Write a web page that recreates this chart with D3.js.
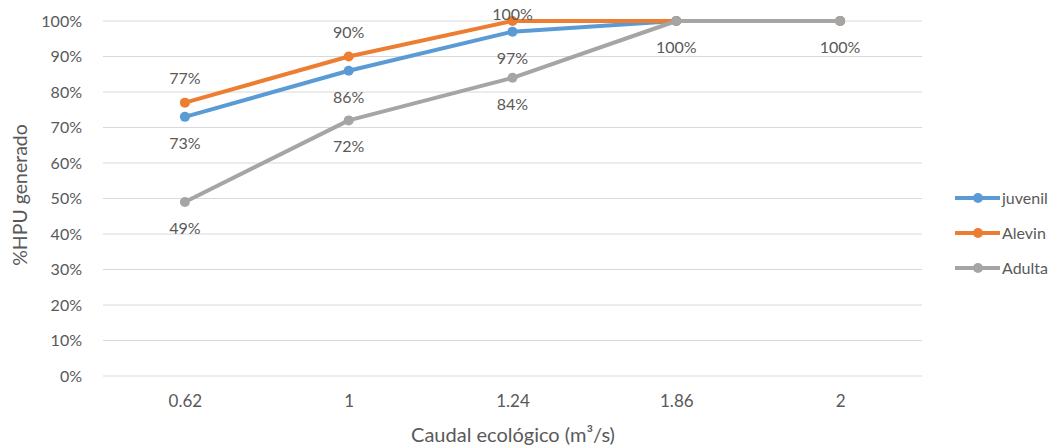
<!DOCTYPE html>
<html>
<head>
<meta charset="utf-8">
<title>%HPU generado</title>
<style>
  body { margin: 0; background: #fff; }
  svg { font-family: Lato, "Open Sans", sans-serif; }
</style>
<script src="https://d3js.org/d3.v7.min.js"></script>
</head>
<body>
<svg id="chart" width="1059" height="448"></svg>
<script>
// data
var caudales = ["0.62", "1", "1.24", "1.86", "2"];
var juvenil = [73, 86, 97, 100, 100];
var alevin  = [77, 90, 100, 100, 100];
var adulta  = [49, 72, 84, 100, 100];
var yTicks = [0, 10, 20, 30, 40, 50, 60, 70, 80, 90, 100];

var series = [
  { name: "juvenil", values: juvenil, color: "#5b9bd5", label: "below", show: [1, 1, 1, 0, 0] },
  { name: "Alevin",  values: alevin,  color: "#ed7d31", label: "above", show: [1, 1, 1, 0, 0] },
  { name: "Adulta",  values: adulta,  color: "#a5a5a5", label: "below", show: [1, 1, 1, 1, 1] }
];

var svg = d3.select("#chart"),
    margin = { left: 103, right: 137, top: 21, bottom: 72 },
    W = +svg.attr("width"), H = +svg.attr("height");

var x = d3.scalePoint()
    .domain(caudales)
    .range([margin.left, W - margin.right])
    .padding(0.5);

var y = d3.scaleLinear()
    .domain([0, 100])
    .range([H - margin.bottom, margin.top]);

var textCol = "#595959";

// gridlines
svg.append("g")
  .selectAll("line")
  .data(yTicks)
  .enter().append("line")
    .attr("x1", margin.left)
    .attr("x2", W - margin.right)
    .attr("y1", function(d) { return y(d); })
    .attr("y2", function(d) { return y(d); })
    .attr("stroke", "#d9d9d9")
    .attr("stroke-width", 1);

// y axis tick labels
var yAxis = svg.append("g")
    .attr("transform", "translate(" + (margin.left - 18) + ",0)")
    .call(d3.axisLeft(y).tickValues(yTicks).tickSize(0).tickFormat(function(d) { return d + "%"; }));
yAxis.select(".domain").remove();
yAxis.selectAll("text")
    .attr("fill", textCol)
    .style("font-size", "16px")
    .style("font-family", "Lato, sans-serif");

// x axis tick labels
var xAxis = svg.append("g")
    .attr("transform", "translate(0," + (H - margin.bottom + 16) + ")")
    .call(d3.axisBottom(x).tickSize(0));
xAxis.select(".domain").remove();
xAxis.selectAll("text")
    .attr("fill", textCol)
    .style("font-size", "17px")
    .style("font-family", "Lato, sans-serif");

// axis titles
svg.append("text")
    .attr("x", 513)
    .attr("y", 442)
    .attr("text-anchor", "middle")
    .attr("fill", textCol)
    .style("font-size", "20px")
    .text("Caudal ecológico (m³/s)");

svg.append("text")
    .attr("transform", "translate(20,195) rotate(-90)")
    .attr("text-anchor", "middle")
    .attr("dy", "0.35em")
    .attr("fill", textCol)
    .style("font-size", "19.5px")
    .text("%HPU generado");

var line = d3.line()
    .x(function(d, i) { return x(caudales[i]); })
    .y(function(d) { return y(d); });

series.forEach(function(s) {
  var g = svg.append("g");
  g.append("path")
    .datum(s.values)
    .attr("d", line)
    .attr("fill", "none")
    .attr("stroke", s.color)
    .attr("stroke-width", 4)
    .attr("stroke-linejoin", "round")
    .attr("stroke-linecap", "round");
  g.selectAll("circle")
    .data(s.values)
    .enter().append("circle")
      .attr("cx", function(d, i) { return x(caudales[i]); })
      .attr("cy", function(d) { return y(d); })
      .attr("r", 5)
      .attr("fill", s.color);
});

// data labels (kept inside the chart like the spreadsheet does)
series.forEach(function(s) {
  svg.append("g")
    .selectAll("text")
    .data(s.values)
    .enter().append("text")
      .filter(function(d, i) { return s.show[i]; })
      .attr("x", function(d, i) { return x(caudales[i]); })
      .attr("y", function(d) {
        return s.label === "above" ? Math.max(20, y(d) - 19) : y(d) + 32;
      })
      .attr("text-anchor", "middle")
      .attr("fill", textCol)
      .style("font-size", "16px")
      .text(function(d) { return d + "%"; });
});

// legend
var legend = svg.selectAll(".legend")
  .data(series)
  .enter().append("g")
    .attr("class", "legend")
    .attr("transform", function(d, i) { return "translate(955," + (198 + 35 * i) + ")"; });

legend.append("line")
    .attr("x1", 0).attr("x2", 45)
    .attr("stroke", function(d) { return d.color; })
    .attr("stroke-width", 4);
legend.append("circle")
    .attr("cx", 23).attr("r", 5)
    .attr("fill", function(d) { return d.color; });
legend.append("text")
    .attr("x", 47)
    .attr("dy", "0.35em")
    .attr("fill", textCol)
    .style("font-size", "16px")
    .text(function(d) { return d.name; });
</script>
</body>
</html>
